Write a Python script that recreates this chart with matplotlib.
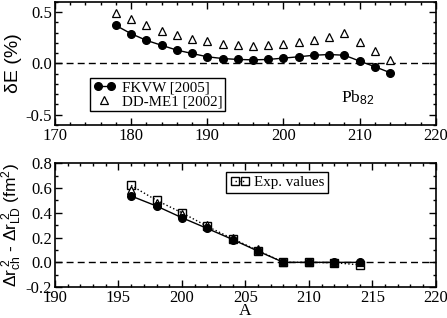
import matplotlib.pyplot as plt
from matplotlib.legend_handler import HandlerLine2D
from matplotlib.ticker import MultipleLocator

# top panel: binding energy deviation for Pb isotopes
A_top = [178, 180, 182, 184, 186, 188, 190, 192, 194, 196, 198, 200, 202, 204, 206, 208, 210, 212, 214]
dE_fkvw = [0.37, 0.29, 0.225, 0.177, 0.13, 0.097, 0.065, 0.048, 0.039, 0.035, 0.039, 0.052, 0.065, 0.08, 0.087, 0.08, 0.023, -0.032, -0.09]
dE_ddme1 = [0.49, 0.43, 0.37, 0.32, 0.28, 0.24, 0.215, 0.19, 0.177, 0.168, 0.177, 0.187, 0.206, 0.23, 0.258, 0.293, 0.206, 0.12, 0.032]

# bottom panel: charge radii differences
A_bot = [196, 198, 200, 202, 204, 206, 208, 210, 212, 214]
dr_fkvw = [0.535, 0.454, 0.36, 0.273, 0.184, 0.09, 0.0, 0.0, 0.0, 0.0]
dr_ddme1 = [0.585, 0.48, 0.39, 0.305, 0.2, 0.108, 0.005, 0.005, 0.005, 0.005]
dr_exp = [0.62, 0.50, 0.40, 0.29, 0.19, 0.095, 0.0, 0.0, -0.003, -0.02]

serif = 'Liberation Serif'
sans = 'Liberation Sans'
plt.rcParams['font.family'] = serif
plt.rcParams['mathtext.fontset'] = 'custom'
plt.rcParams['mathtext.rm'] = sans
plt.rcParams['mathtext.it'] = sans

fig = plt.figure(figsize=(4.47, 3.18), dpi=100)
ax1 = fig.add_axes([0.123, 0.607, 0.852, 0.387])
ax2 = fig.add_axes([0.123, 0.097, 0.852, 0.39])

def style(ax):
    ax.tick_params(which='both', direction='in', top=True, right=True, labelsize=12, width=1)
    ax.tick_params(which='major', length=5, pad=2)
    ax.tick_params(which='minor', length=2.5)
    for s in ax.spines.values():
        s.set_linewidth(1.2)

# top
ax1.axhline(0, color='k', ls='--', lw=1, dashes=(5, 3))
l1, = ax1.plot(A_top, dE_fkvw, 'k-', marker='o', ms=5.5, lw=1, label='FKVW [2005]')
l2, = ax1.plot(A_top, dE_ddme1, ls='none', marker='^', ms=6, mfc='white', mec='k', mew=0.9, label='DD-ME1 [2002]')
ax1.set_xlim(170, 220)
ax1.set_ylim(-0.6, 0.6)
ax1.xaxis.set_major_locator(MultipleLocator(10))
ax1.xaxis.set_minor_locator(MultipleLocator(2))
ax1.yaxis.set_minor_locator(MultipleLocator(0.1))
ax1.set_yticks([-0.5, 0.0, 0.5])
ax1.set_yticklabels(['-0.5', '0.0', '0.5'])
style(ax1)
ax1.set_ylabel('δE (%)', family=sans, fontsize=14, labelpad=3)
ax1.text(207.6, -0.33, r'Pb$_{82}$', fontsize=12.5, family=serif, va='center')
leg = ax1.legend(handles=[l1, l2], loc='upper left', bbox_to_anchor=(0.092, 0.385), fontsize=10.8,
                 numpoints=2, handlelength=1.5, handletextpad=0.4, borderpad=0.2, labelspacing=0.05,
                 borderaxespad=0, fancybox=False, edgecolor='k', framealpha=1,
                 handler_map={l2: HandlerLine2D(numpoints=1)})
leg.get_frame().set_linewidth(1)

# bottom
ax2.axhline(0, color='k', ls='--', lw=1, dashes=(5, 3))
l3, = ax2.plot(A_bot, dr_exp, color='k', ls=':', lw=1, marker='s', ms=5.5, mfc='none', mec='k', mew=1, label='Exp. values')
ax2.plot(A_bot, dr_ddme1, ls='none', marker='^', ms=6, mfc='white', mec='k', mew=0.9)
ax2.plot(A_bot, dr_fkvw, 'k-', marker='o', ms=5.5, lw=1)
ax2.set_xlim(190, 220)
ax2.set_ylim(-0.2, 0.8)
ax2.xaxis.set_major_locator(MultipleLocator(5))
ax2.xaxis.set_minor_locator(MultipleLocator(1))
ax2.yaxis.set_minor_locator(MultipleLocator(0.1))
ax2.set_yticks([-0.2, 0.0, 0.2, 0.4, 0.6, 0.8])
ax2.set_yticklabels(['-0.2', '0.0', '0.2', '0.4', '0.6', '0.8'])
style(ax2)
ax2.set_ylabel(r'$\Delta\mathrm{r}_{\mathrm{ch}}^{\ 2}$ - $\Delta\mathrm{r}_{\mathrm{LD}}^{\ 2}$ (fm$^2$)',
               family=sans, fontsize=12.5, labelpad=1)
ax2.set_xlabel('A', fontsize=12.5)
ax2.xaxis.label.set_va('baseline')
ax2.xaxis.set_label_coords(0.5, -0.222)
leg2 = ax2.legend(handles=[l3], loc='upper left', bbox_to_anchor=(0.45, 0.93), fontsize=10.8,
                  numpoints=2, handlelength=1.3, handletextpad=0.3, borderpad=0.25,
                  borderaxespad=0, fancybox=False, edgecolor='k', framealpha=1)
leg2.get_frame().set_linewidth(1)

fig.savefig('out.png', dpi=100)
